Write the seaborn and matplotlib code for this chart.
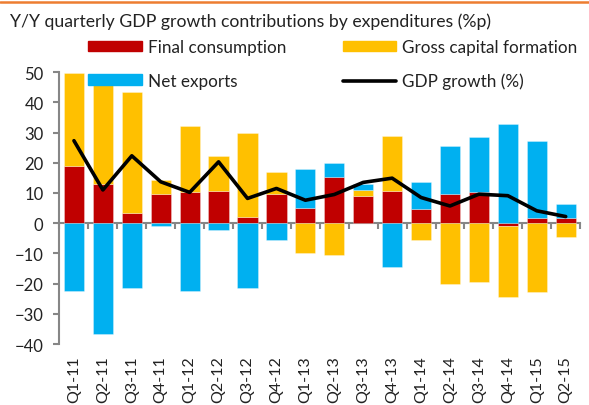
import numpy as np
import pandas as pd
import matplotlib
matplotlib.use("Agg")
import matplotlib.pyplot as plt
import seaborn as sns
from matplotlib.lines import Line2D
from matplotlib.patches import Patch

quarters = ["Q1-11", "Q2-11", "Q3-11", "Q4-11", "Q1-12", "Q2-12", "Q3-12", "Q4-12",
            "Q1-13", "Q2-13", "Q3-13", "Q4-13", "Q1-14", "Q2-14", "Q3-14", "Q4-14",
            "Q1-15", "Q2-15"]
final_consumption = [19.0, 12.9, 3.5, 9.8, 10.3, 10.6, 2.0, 9.7,
                     5.1, 15.4, 9.1, 10.6, 4.6, 9.7, 10.4, -0.9, 1.7, 1.7]
gross_capital = [30.7, 33.5, 40.0, 4.6, 22.0, 11.5, 27.8, 7.1,
                 -9.9, -10.6, 1.8, 18.3, -5.6, -20.1, -19.3, -23.4, -22.6, -4.4]
net_exports = [-22.4, -36.5, -21.3, -0.9, -22.4, -2.1, -21.5, -5.6,
               12.8, 4.5, 2.2, -14.5, 9.0, 16.0, 18.1, 32.9, 25.4, 4.7]
gdp_growth = [27.3, 11.0, 22.3, 13.7, 10.2, 20.3, 8.2, 11.5,
              7.6, 9.5, 13.5, 14.9, 8.5, 5.7, 9.6, 9.1, 4.1, 2.2]

series = [("Final consumption", final_consumption, "#C00000"),
          ("Gross capital formation", gross_capital, "#FFC000"),
          ("Net exports", net_exports, "#00B0F0")]

sns.set_theme(style="white")
plt.rcParams["font.family"] = ["Lato", "DejaVu Sans"]

fig = plt.figure(figsize=(5.89, 4.06), dpi=100)
ax = fig.add_axes([0.101, 0.150, 0.884, 0.670])

n = len(quarters)
pos_base = np.zeros(n)
neg_base = np.zeros(n)
for name, vals, col in series:
    v = np.asarray(vals, dtype=float)
    bottoms = np.where(v >= 0, pos_base, neg_base)
    sns.barplot(x=quarters, y=v, bottom=bottoms, color=col, width=0.7,
                saturation=1, ax=ax, linewidth=0.6, edgecolor=(1, 1, 1, 0.35))
    pos_base = pos_base + np.where(v >= 0, v, 0)
    neg_base = neg_base + np.where(v < 0, v, 0)

sns.lineplot(x=np.arange(n), y=gdp_growth, color="black", linewidth=2.6, ax=ax,
             solid_joinstyle="round", solid_capstyle="round")

ax.set_xlim(-0.5, n - 0.5)
ax.set_ylim(-40, 50)
ax.set_yticks(np.arange(-40, 51, 10))
ax.set_ylabel("")
ax.set_xlabel("")

grey = "#868686"
for s in ["top", "right"]:
    ax.spines[s].set_visible(False)
ax.spines["left"].set_color(grey)
ax.spines["left"].set_linewidth(1.5)
ax.spines["bottom"].set_position(("data", 0))
ax.spines["bottom"].set_color(grey)
ax.spines["bottom"].set_linewidth(1.5)
ax.spines["bottom"].set_zorder(0.5)

ax.tick_params(axis="y", direction="out", length=4.5, width=1.5, color=grey,
               labelsize=12, pad=7, labelcolor="#222222", left=True)
ax.set_xticks(np.arange(-0.5, n, 1), minor=True)
ax.tick_params(axis="x", which="minor", direction="out", length=4, width=1.5,
               color=grey, bottom=True)
ax.tick_params(axis="x", which="major", length=0, labelbottom=False)

sec = ax.secondary_xaxis("bottom")
sec.set_xticks(np.arange(n), labels=quarters)
sec.tick_params(axis="x", length=0, labelsize=11.5, pad=8, labelrotation=90,
                labelcolor="#222222")
sec.spines["bottom"].set_visible(False)

handles = [Patch(color="#C00000", label="Final consumption"),
           Patch(color="#00B0F0", label="Net exports"),
           Patch(color="#FFC000", label="Gross capital formation"),
           Line2D([], [], color="black", linewidth=2.6, label="GDP growth (%)")]
fig.legend(handles=handles, ncol=2, frameon=False, loc="upper left",
           bbox_to_anchor=(88 / 589, 1 - 40 / 406), fontsize=12.3,
           handlelength=3.15, handleheight=0.6, handletextpad=0.35,
           columnspacing=3.3, labelspacing=1.05, borderpad=0, borderaxespad=0,
           labelcolor="#222222")

fig.text(10 / 589, 1 - 26.5 / 406,
         "Y/Y quarterly GDP growth contributions by expenditures (%p)",
         fontsize=12.7, va="baseline", ha="left", color="#222222")
fig.add_artist(Line2D([0, 1], [1 - 3 / 406, 1 - 3 / 406], color="#ED7D31",
                      linewidth=1.8, transform=fig.transFigure))

fig.savefig("out.png", dpi=100)
